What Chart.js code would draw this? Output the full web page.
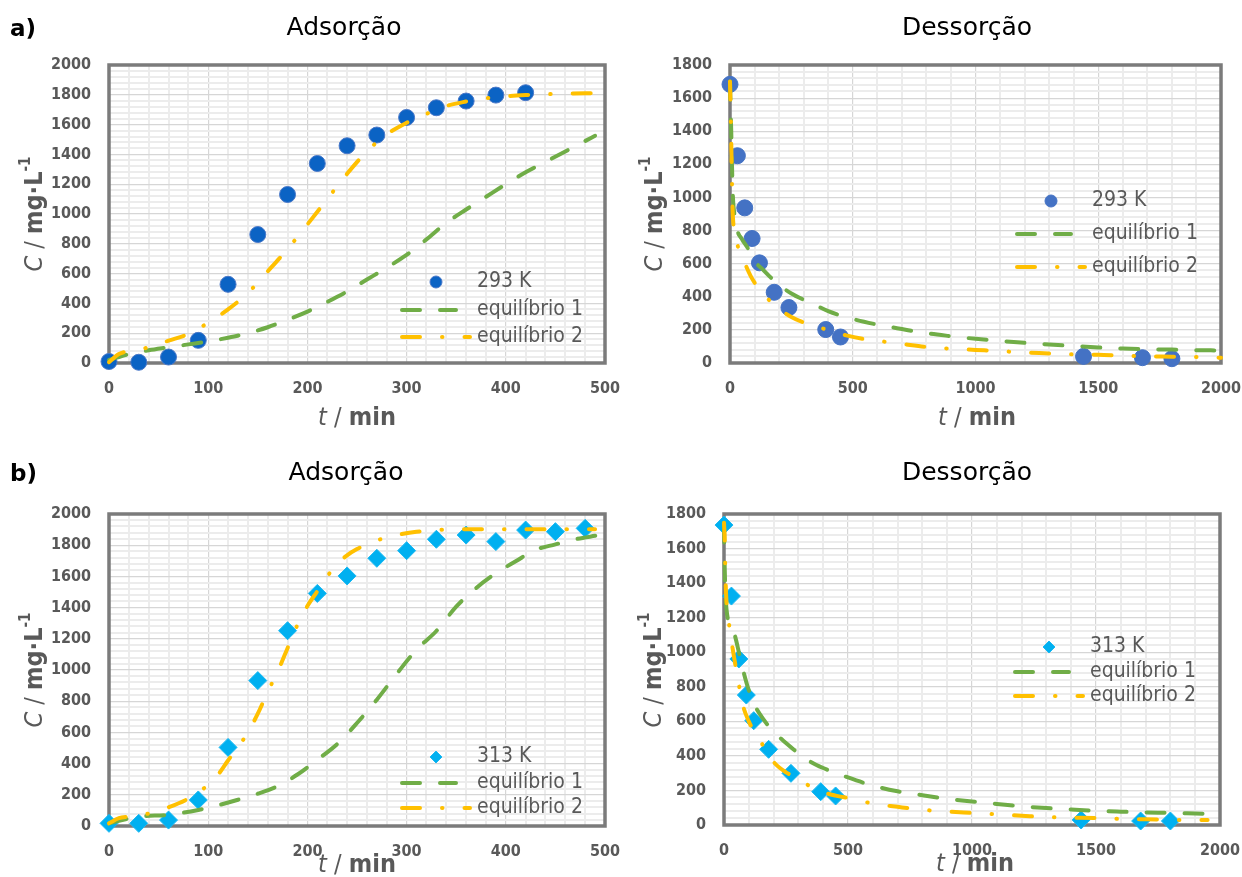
<!DOCTYPE html>
<html lang="pt">
<head>
<meta charset="utf-8">
<title>Adsorção e dessorção</title>
<script src="https://cdn.jsdelivr.net/npm/chart.js@4.4.1/dist/chart.umd.min.js"></script>
<style>
  html, body { margin: 0; padding: 0; background: #fff; }
  #wrap { position: relative; width: 1242px; height: 877px; overflow: hidden; }
  #wrap canvas { position: absolute; }
</style>
</head>
<body>
<div id="wrap">
  <canvas id="adsA" width="620" height="440" style="left:0;top:0"></canvas>
  <canvas id="desA" width="622" height="440" style="left:620px;top:0"></canvas>
  <canvas id="adsB" width="620" height="437" style="left:0;top:440px"></canvas>
  <canvas id="desB" width="622" height="437" style="left:620px;top:440px"></canvas>
</div>
<script>
'use strict';

// --- measured points ---
const adsTime293 = [0, 30, 60, 90, 120, 150, 180, 210, 240, 270, 300, 330, 360, 390, 420];
const adsConc293 = [10, 5, 40, 152, 528, 862, 1131, 1339, 1458, 1530, 1648, 1713, 1758, 1798, 1814];

const desTime293 = [0, 30, 60, 90, 120, 180, 240, 390, 450, 1440, 1680, 1800];
const desConc293 = [1683, 1252, 937, 752, 605, 427, 335, 202, 157, 40, 32, 26];

const adsTime313 = [0, 30, 60, 90, 120, 150, 180, 210, 240, 270, 300, 330, 360, 390, 420, 450, 480];
const adsConc313 = [17, 17, 38, 167, 504, 932, 1252, 1491, 1603, 1716, 1765, 1838, 1865, 1823, 1897, 1887, 1908];

const desTime313 = [0, 30, 60, 90, 120, 180, 270, 390, 450, 1440, 1680, 1800];
const desConc313 = [1736, 1325, 961, 752, 604, 438, 299, 193, 168, 29, 23, 23];

// --- model curves (equilíbrio 1 / equilíbrio 2) ---
const adsEq1Time293 = [0, 20, 40, 60, 80, 100, 120, 140, 160, 180, 200, 220, 240, 260, 280, 300, 320, 340, 360, 380, 400, 420, 440, 460, 480, 490];
const adsEq1Conc293 = [20, 60, 85, 105, 125, 145, 170, 200, 240, 290, 345, 410, 480, 560, 640, 725, 830, 940, 1030, 1115, 1200, 1280, 1350, 1420, 1490, 1525];
const adsEq2Time293 = [0, 10, 20, 40, 60, 80, 100, 120, 140, 160, 180, 200, 220, 240, 260, 280, 300, 320, 340, 360, 380, 400, 420, 450, 480, 500];
const adsEq2Conc293 = [5, 60, 80, 105, 150, 195, 270, 360, 470, 615, 765, 930, 1100, 1270, 1420, 1535, 1612, 1672, 1725, 1755, 1777, 1790, 1798, 1806, 1810, 1810];

const desEq1Time293 = [0, 2, 5, 8, 12, 20, 30, 50, 70, 100, 130, 160, 200, 250, 300, 350, 400, 500, 600, 700, 800, 900, 1000, 1100, 1200, 1300, 1400, 1500, 1600, 1700, 1800, 1900, 2000];
const desEq1Conc293 = [1700, 1560, 1400, 1200, 1000, 880, 800, 745, 700, 615, 570, 525, 470, 420, 382, 348, 313, 266, 232, 205, 180, 162, 146, 133, 122, 112, 103, 94, 87, 83, 81, 77, 76];
const desEq2Time293 = [0, 3, 5, 6, 8, 10, 15, 24, 50, 86, 129, 187, 250, 324, 403, 473, 560, 640, 711, 798, 900, 1000, 1100, 1200, 1300, 1400, 1500, 1600, 1700, 1800, 1900, 2000];
const desEq2Conc293 = [1700, 1500, 1350, 1250, 1100, 950, 820, 746, 641, 520, 429, 343, 278, 232, 198, 167, 141, 127, 113, 97, 86, 79, 72, 63, 58, 52, 50, 44, 40, 38, 36, 32];

const adsEq1Time313 = [0, 30, 60, 90, 110, 130, 150, 170, 190, 210, 230, 250, 270, 290, 310, 330, 350, 370, 390, 410, 430, 450, 470, 490, 500];
const adsEq1Conc313 = [17, 60, 72, 103, 133, 168, 207, 255, 330, 425, 525, 660, 810, 975, 1130, 1250, 1406, 1525, 1620, 1697, 1770, 1805, 1838, 1860, 1870];
const adsEq2Time313 = [0, 10, 20, 40, 60, 80, 90, 100, 110, 120, 130, 140, 150, 160, 170, 180, 190, 200, 210, 220, 230, 240, 250, 260, 270, 280, 290, 310, 330, 350, 400, 490];
const adsEq2Conc313 = [17, 50, 60, 80, 120, 175, 215, 265, 330, 420, 505, 600, 720, 860, 990, 1140, 1290, 1410, 1505, 1600, 1680, 1735, 1775, 1805, 1830, 1850, 1865, 1886, 1897, 1902, 1903, 1903];

const desEq1Time313 = [0, 3, 10, 30, 45, 60, 80, 100, 125, 160, 200, 250, 300, 350, 400, 500, 600, 700, 800, 900, 1000, 1100, 1200, 1300, 1400, 1500, 1600, 1700, 1800, 1900, 2000];
const desEq1Conc313 = [1740, 1480, 1250, 1150, 1090, 1000, 880, 780, 690, 610, 540, 475, 415, 365, 330, 275, 228, 195, 172, 152, 136, 122, 108, 98, 90, 82, 77, 73, 70, 66, 62];
const desEq2Time313 = [0, 3, 5, 8, 19, 35, 56, 75, 100, 131, 180, 200, 250, 291, 363, 450, 512, 596, 700, 800, 900, 1000, 1100, 1200, 1300, 1400, 1500, 1600, 1700, 1800, 1950];
const desEq2Conc313 = [1750, 1650, 1500, 1350, 1180, 1020, 845, 700, 600, 521, 410, 365, 305, 276, 210, 170, 154, 125, 105, 88, 78, 70, 62, 54, 46, 43, 40, 35, 33, 30, 29];

// --- axis ticks (labelled) ---
const adsXTicks = [0, 100, 200, 300, 400, 500];
const desXTicks = [0, 500, 1000, 1500, 2000];
const adsYTicks = [0, 200, 400, 600, 800, 1000, 1200, 1400, 1600, 1800, 2000];
const desYTicks = [0, 200, 400, 600, 800, 1000, 1200, 1400, 1600, 1800];

const FAMILY = "'DejaVu Sans Condensed', 'DejaVu Sans', sans-serif";
const GREY = '#595959';
const GREEN = '#70AD47';
const GOLD = '#FFC000';

const font = function (size, style) {
    return (style || '') + ' ' + size + 'px ' + FAMILY;
};

const toPoints = function (xs, ys) {
    return xs.map(function (x, i) { return {x: x, y: ys[i]}; });
};

// five sub-divisions between labelled ticks, for the light grid
const withMinor = function (majors) {
    const out = [];
    for (let i = 0; i < majors.length - 1; i++) {
        const step = (majors[i + 1] - majors[i]) / 5;
        for (let k = 0; k < 5; k++) {
            out.push(majors[i] + k * step);
        }
    }
    out.push(majors[majors.length - 1]);
    return out;
};

const drawRich = function (ctx, parts, x, y, angle) {
    ctx.save();
    ctx.translate(x, y);
    ctx.rotate(angle);
    ctx.textBaseline = 'middle';
    ctx.textAlign = 'left';
    let total = 0;
    const widths = parts.map(function (p) {
        ctx.font = p.font;
        const w = ctx.measureText(p.text).width;
        total += w;
        return w;
    });
    let cx = -total / 2;
    parts.forEach(function (p, i) {
        ctx.font = p.font;
        ctx.fillStyle = p.color || GREY;
        ctx.fillText(p.text, cx, p.rise || 0);
        cx += widths[i];
    });
    ctx.restore();
};

const drawLegend = function (ctx, chart, lg) {
    chart.data.datasets.forEach(function (ds, i) {
        const y = lg.rows[i];
        ctx.save();
        if (ds.showLine) {
            ctx.strokeStyle = ds.borderColor;
            ctx.lineWidth = ds.borderWidth;
            ctx.lineCap = 'round';
            ctx.setLineDash(ds.borderDash);
            ctx.beginPath();
            ctx.moveTo(lg.left + 2, y);
            ctx.lineTo(lg.left + 2 + (i === 1 ? 54 : 68), y);
            ctx.stroke();
        } else {
            ctx.fillStyle = ds.backgroundColor;
            ctx.strokeStyle = ds.borderColor;
            Chart.helpers.drawPoint(ctx, {
                pointStyle: ds.pointStyle, rotation: 0, radius: lg.markerRadius, borderWidth: 1
            }, lg.left + 36, y);
        }
        ctx.font = font(21);
        ctx.fillStyle = GREY;
        ctx.textBaseline = 'middle';
        ctx.textAlign = 'left';
        ctx.fillText(ds.label, lg.left + 77, y);
        ctx.restore();
    });
};

// frame, titles, axis titles and legend
const panelDecor = {
    id: 'panelDecor',
    beforeDatasetsDraw: function (chart) {
        const ctx = chart.ctx;
        const a = chart.chartArea;
        ctx.save();
        ctx.strokeStyle = '#7b7b7b';
        ctx.lineWidth = 3.5;
        ctx.strokeRect(a.left, a.top, a.right - a.left, a.bottom - a.top);
        ctx.restore();
    },
    afterDraw: function (chart, args, opts) {
        const ctx = chart.ctx;
        ctx.save();
        ctx.fillStyle = '#000';
        ctx.textAlign = 'center';
        ctx.textBaseline = 'middle';
        ctx.font = "25px 'DejaVu Sans', sans-serif";
        ctx.fillText(opts.title, opts.titleX, opts.titleY);
        if (opts.letter) {
            ctx.textAlign = 'left';
            ctx.font = "bold 23px 'DejaVu Sans', sans-serif";
            ctx.fillText(opts.letter, 10, opts.titleY + 2);
        }
        ctx.restore();

        drawRich(ctx, [
            {text: 't', font: font(25, 'italic')},
            {text: ' / ', font: font(25)},
            {text: 'min', font: font(25, 'bold')}
        ], opts.xTitle[0], opts.xTitle[1], 0);

        drawRich(ctx, [
            {text: 'C', font: font(25, 'italic')},
            {text: ' / ', font: font(25)},
            {text: 'mg·L', font: font(25, 'bold')},
            {text: '-1', font: font(15, 'bold'), rise: -9}
        ], opts.yTitle[0], opts.yTitle[1], -Math.PI / 2);

        drawLegend(ctx, chart, opts.legend);
    }
};

const buildPanel = function (p) {
    const canvas = document.getElementById(p.id);
    const W = canvas.width;
    const H = canvas.height;
    const ox = p.origin[0];
    const oy = p.origin[1];
    const area = p.area;

    const xAll = withMinor(p.xTicks);
    const yAll = withMinor(p.yTicks);
    const xMajor = function (v) { return p.xTicks.indexOf(Math.round(v)) >= 0; };
    const yMajor = function (v) { return p.yTicks.indexOf(Math.round(v)) >= 0; };

    const fitLine = function (label, pts, color, dash) {
        return {
            label: label,
            data: pts,
            showLine: true,
            borderColor: color,
            backgroundColor: color,
            borderWidth: 4,
            borderDash: dash,
            borderCapStyle: 'round',
            cubicInterpolationMode: 'monotone',
            pointRadius: 0,
            pointHoverRadius: 0,
            clip: 3
        };
    };

    const tickFont = {family: FAMILY, size: 16, weight: 'bold'};

    return new Chart(canvas, {
        type: 'scatter',
        data: {
            datasets: [{
                label: p.seriesLabel,
                data: p.points,
                showLine: false,
                pointStyle: p.pointStyle,
                pointRadius: p.pointRadius,
                pointHoverRadius: p.pointRadius,
                backgroundColor: p.pointColor,
                borderColor: p.pointBorder,
                pointBorderWidth: 1,
                clip: false,
                order: 3
            },
            Object.assign(fitLine('equilíbrio 1', p.eq1, GREEN, [18, 20]), {order: 2}),
            Object.assign(fitLine('equilíbrio 2', p.eq2, GOLD, [18, 22, 0.5, 22]), {order: 1})]
        },
        options: {
            responsive: false,
            animation: false,
            events: [],
            layout: {
                padding: {left: 0, top: area[1] - oy, right: W - (area[2] - ox), bottom: 0}
            },
            plugins: {
                legend: {display: false},
                tooltip: {enabled: false},
                panelDecor: {
                    title: p.title,
                    letter: p.letter,
                    titleX: p.titlePos[0] - ox,
                    titleY: p.titlePos[1] - oy,
                    xTitle: [p.xTitle[0] - ox, p.xTitle[1] - oy],
                    yTitle: [p.yTitle[0] - ox, p.yTitle[1] - oy],
                    legend: {
                        left: p.legendLeft - ox,
                        rows: p.legendRows.map(function (r) { return r - oy; }),
                        markerRadius: p.legendRadius
                    }
                }
            },
            scales: {
                x: {
                    type: 'linear',
                    min: p.xTicks[0],
                    max: p.xTicks[p.xTicks.length - 1],
                    afterBuildTicks: function (s) { s.ticks = xAll.map(function (v) { return {value: v}; }); },
                    afterFit: function (s) {
                        s.height = H - (area[3] - oy);
                        s.paddingLeft = 0;
                        s.paddingRight = 0;
                    },
                    border: {display: false},
                    grid: {
                        drawTicks: false,
                        color: function (c) { return xMajor(c.tick.value) ? '#d6d6d6' : '#ececec'; },
                        lineWidth: function (c) { return xMajor(c.tick.value) ? 1.2 : 2; }
                    },
                    ticks: {
                        autoSkip: false,
                        maxRotation: 0,
                        padding: 16,
                        color: GREY,
                        font: tickFont,
                        callback: function (v) { return xMajor(v) ? String(Math.round(v)) : ''; }
                    }
                },
                y: {
                    type: 'linear',
                    min: p.yTicks[0],
                    max: p.yTicks[p.yTicks.length - 1],
                    afterBuildTicks: function (s) { s.ticks = yAll.map(function (v) { return {value: v}; }); },
                    afterFit: function (s) {
                        s.width = area[0] - ox;
                        s.paddingTop = 0;
                        s.paddingBottom = 0;
                    },
                    border: {display: false},
                    grid: {
                        drawTicks: false,
                        color: function (c) { return yMajor(c.tick.value) ? '#d6d6d6' : '#ececec'; },
                        lineWidth: function (c) { return yMajor(c.tick.value) ? 1.2 : 2; }
                    },
                    ticks: {
                        autoSkip: false,
                        padding: 18,
                        color: GREY,
                        font: tickFont,
                        callback: function (v) { return yMajor(v) ? String(Math.round(v)) : ''; }
                    }
                }
            }
        },
        plugins: [panelDecor]
    });
};

buildPanel({
    id: 'adsA', origin: [0, 0], area: [109, 65, 605, 363],
    xTicks: adsXTicks, yTicks: adsYTicks,
    title: 'Adsorção', letter: 'a)', titlePos: [344, 28],
    xTitle: [357, 418], yTitle: [35, 214],
    seriesLabel: '293 K', points: toPoints(adsTime293, adsConc293),
    pointStyle: 'circle', pointRadius: 8, pointColor: '#0b63c4', pointBorder: '#4a78c8',
    eq1: toPoints(adsEq1Time293, adsEq1Conc293), eq2: toPoints(adsEq2Time293, adsEq2Conc293),
    legendLeft: 400, legendRows: [282, 310, 337], legendRadius: 6
});

buildPanel({
    id: 'desA', origin: [620, 0], area: [730, 65, 1221, 363],
    xTicks: desXTicks, yTicks: desYTicks,
    title: 'Dessorção', letter: null, titlePos: [967, 28],
    xTitle: [977, 418], yTitle: [655, 214],
    seriesLabel: '293 K', points: toPoints(desTime293, desConc293),
    pointStyle: 'circle', pointRadius: 8, pointColor: '#4472C4', pointBorder: '#4472C4',
    eq1: toPoints(desEq1Time293, desEq1Conc293), eq2: toPoints(desEq2Time293, desEq2Conc293),
    legendLeft: 1015, legendRows: [201, 234, 267], legendRadius: 6
});

buildPanel({
    id: 'adsB', origin: [0, 440], area: [109, 514, 605, 826],
    xTicks: adsXTicks, yTicks: adsYTicks,
    title: 'Adsorção', letter: 'b)', titlePos: [346, 473],
    xTitle: [357, 865], yTitle: [35, 670],
    seriesLabel: '313 K', points: toPoints(adsTime313, adsConc313),
    pointStyle: 'rectRot', pointRadius: 9, pointColor: '#00B0F0', pointBorder: '#1ab8f2',
    eq1: toPoints(adsEq1Time313, adsEq1Conc313), eq2: toPoints(adsEq2Time313, adsEq2Conc313),
    legendLeft: 400, legendRows: [757, 783, 808], legendRadius: 6
});

buildPanel({
    id: 'desB', origin: [620, 440], area: [724, 514, 1220, 825],
    xTicks: desXTicks, yTicks: desYTicks,
    title: 'Dessorção', letter: null, titlePos: [967, 473],
    xTitle: [975, 864], yTitle: [654, 670],
    seriesLabel: '313 K', points: toPoints(desTime313, desConc313),
    pointStyle: 'rectRot', pointRadius: 9, pointColor: '#00B0F0', pointBorder: '#1ab8f2',
    eq1: toPoints(desEq1Time313, desEq1Conc313), eq2: toPoints(desEq2Time313, desEq2Conc313),
    legendLeft: 1013, legendRows: [647, 672, 696], legendRadius: 6
});
</script>
</body>
</html>
